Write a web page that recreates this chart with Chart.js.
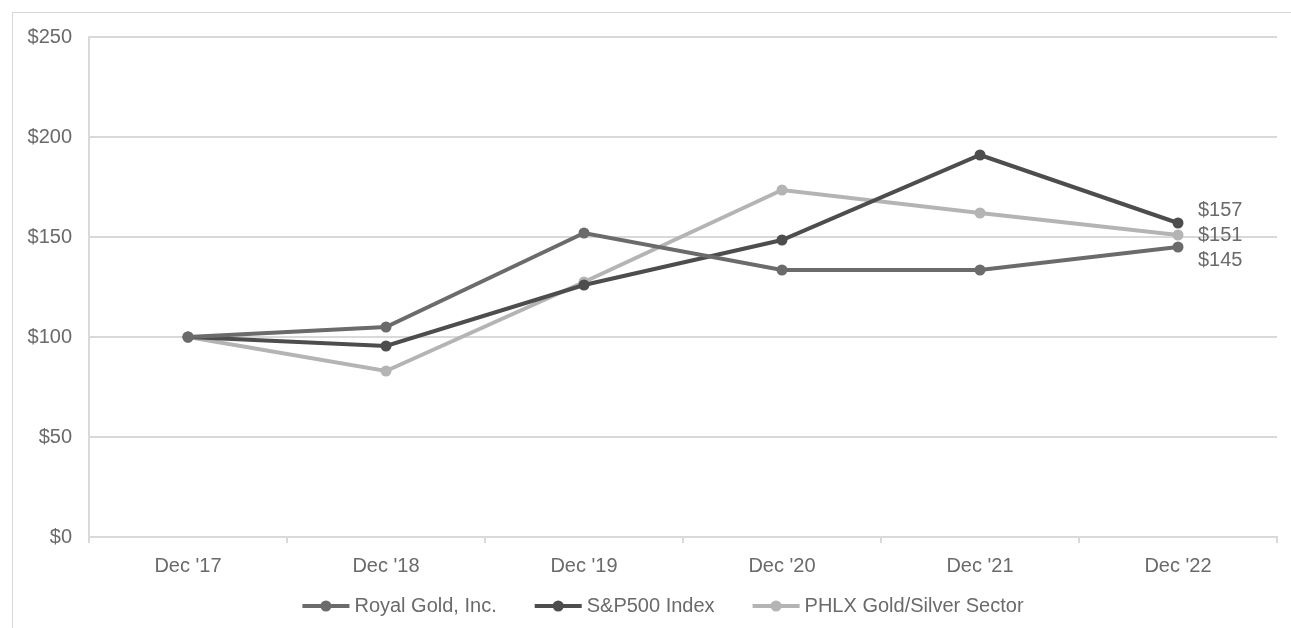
<!DOCTYPE html>
<html>
<head>
<meta charset="utf-8">
<script src="https://cdn.jsdelivr.net/npm/chart.js@4.4.0/dist/chart.umd.min.js"></script>
<style>
  html, body { margin: 0; padding: 0; background: #fff; overflow: hidden; }
  #frame { position: absolute; left: 12px; top: 12px; width: 1300px; height: 640px; border-left: 1px solid #d6d6d6; border-top: 1px solid #d6d6d6; }
  #wrap { position: absolute; left: 0; top: 0; width: 1291px; height: 628px; }
</style>
</head>
<body>
<div id="frame"></div>
<div id="wrap"><canvas id="c" width="1291" height="628"></canvas></div>
<script>
const categories = ["Dec '17", "Dec '18", "Dec '19", "Dec '20", "Dec '21", "Dec '22"];
const royalGold = [100, 105, 152, 133.5, 133.5, 145];
const sp500 = [100, 95.5, 126, 148.5, 191, 157];
const phlx = [100, 83, 127.5, 173.5, 162, 151];
const seriesNames = ["Royal Gold, Inc.", "S&P500 Index", "PHLX Gold/Silver Sector"];
const endLabels = ["$145", "$157", "$151"];
const yTicks = [0, 50, 100, 150, 200, 250];

const colors = ["#6b6b6b", "#4d4d4d", "#b4b4b4"];
const labelDy = [13, -13, 0];
const FONT = "'Liberation Sans', Arial, sans-serif";
const TEXT = "#6a6a6a";

const endLabelPlugin = {
  id: 'endLabels',
  afterDatasetsDraw(chart) {
    const ctx = chart.ctx;
    ctx.save();
    ctx.font = "20px " + FONT;
    ctx.fillStyle = TEXT;
    ctx.textBaseline = "middle";
    ctx.textAlign = "left";
    chart.data.datasets.forEach((ds, i) => {
      const meta = chart.getDatasetMeta(i);
      const pt = meta.data[meta.data.length - 1];
      ctx.fillText(endLabels[i], pt.x + 20, pt.y + labelDy[i]);
    });
    ctx.restore();
  }
};

const legendPlugin = {
  id: 'lineLegend',
  afterDraw(chart) {
    const ctx = chart.ctx;
    ctx.save();
    ctx.font = "20px " + FONT;
    ctx.textBaseline = "middle";
    ctx.textAlign = "left";
    const lineLen = 47, textGap = 5, itemGap = 38, cy = 606, centerX = 663;
    const widths = chart.data.datasets.map(ds => lineLen + textGap + ctx.measureText(ds.label).width);
    const total = widths.reduce((a, b) => a + b, 0) + itemGap * (widths.length - 1);
    let x = centerX - total / 2;
    chart.data.datasets.forEach((ds, i) => {
      const c = ds.borderColor;
      ctx.strokeStyle = c; ctx.lineWidth = 4;
      ctx.beginPath(); ctx.moveTo(x, cy); ctx.lineTo(x + lineLen, cy); ctx.stroke();
      ctx.fillStyle = c;
      ctx.beginPath(); ctx.arc(x + lineLen / 2, cy, 5.5, 0, Math.PI * 2); ctx.fill();
      ctx.fillStyle = TEXT;
      ctx.fillText(ds.label, x + lineLen + textGap, cy);
      x += widths[i] + itemGap;
    });
    ctx.restore();
  }
};

const mk = (name, data, i) => ({
  label: name,
  data: data,
  borderColor: colors[i],
  backgroundColor: colors[i],
  borderWidth: 4,
  pointRadius: 5.5,
  pointHoverRadius: 5.5,
  pointBackgroundColor: colors[i],
  pointBorderWidth: 0,
  tension: 0,
  fill: false
});

new Chart(document.getElementById('c'), {
  type: 'line',
  data: {
    labels: categories,
    datasets: [
      mk(seriesNames[0], royalGold, 0),
      mk(seriesNames[1], sp500, 1),
      mk(seriesNames[2], phlx, 2)
    ]
  },
  options: {
    responsive: false,
    animation: false,
    devicePixelRatio: 1,
    layout: { padding: { left: 0, right: 14, top: 37, bottom: 46 } },
    plugins: {
      tooltip: { enabled: false },
      legend: { display: false }
    },
    scales: {
      x: {
        type: 'category',
        offset: true,
        grid: { offset: true, drawOnChartArea: false, drawTicks: true, tickLength: 6, color: "#d9d9d9", lineWidth: 2 },
        border: { display: true, color: "#d9d9d9", width: 2 },
        ticks: { color: TEXT, font: { size: 20, family: FONT }, padding: 11, maxRotation: 0 },
        afterFit(s) { s.height = 45; }
      },
      y: {
        min: 0, max: 250,
        afterBuildTicks(s) { s.ticks = yTicks.map(v => ({ value: v })); },
        grid: { color: "#d9d9d9", lineWidth: 2, drawTicks: false },
        border: { display: true, color: "#d9d9d9", width: 2 },
        ticks: { color: TEXT, font: { size: 20, family: FONT }, padding: 17, callback: v => '$' + v },
        afterFit(s) { s.width = 89; }
      }
    }
  },
  plugins: [endLabelPlugin, legendPlugin]
});
</script>
</body>
</html>
